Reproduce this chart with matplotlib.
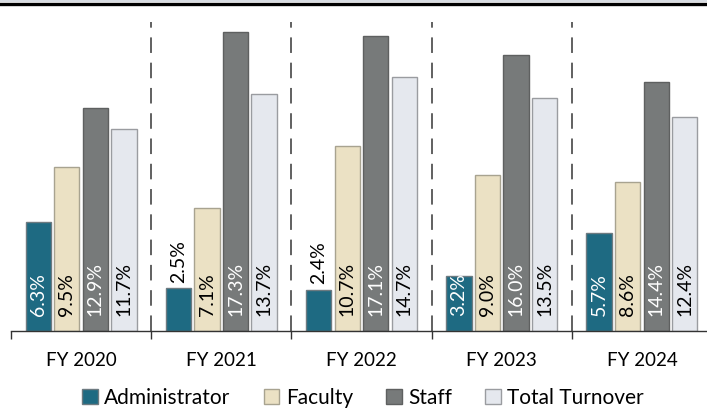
import matplotlib
matplotlib.use("Agg")
import matplotlib.pyplot as plt
from matplotlib.lines import Line2D
import numpy as np

plt.rcParams['font.family'] = ['Lato', 'DejaVu Sans']

years = ["FY 2020", "FY 2021", "FY 2022", "FY 2023", "FY 2024"]
series = ["Administrator", "Faculty", "Staff", "Total Turnover"]
administrator = [6.3, 2.5, 2.4, 3.2, 5.7]
faculty = [9.5, 7.1, 10.7, 9.0, 8.6]
staff = [12.9, 17.3, 17.1, 16.0, 14.4]
total = [11.7, 13.7, 14.7, 13.5, 12.4]

colors = ["#1e6a82", "#ebe1c4", "#777a7a", "#e5e8ee"]
edges = ["#6d7a80", "#a8a390", "#5e6060", "#9a9ca0"]
text_colors = ["white", "black", "white", "black"]

fig = plt.figure(figsize=(7.07, 4.12), dpi=100)
W, H = 707, 412
ax = fig.add_axes([11 / W, (H - 331) / H, 701 / W, 326 / H])

x = np.arange(len(years))
step = 0.2036
width = 0.18
for k, vals in enumerate([administrator, faculty, staff, total]):
    pos = x + (k - 1.5) * step
    ax.bar(pos, vals, width, color=colors[k], edgecolor=edges[k], linewidth=1.0,
           label=series[k], zorder=2)
    for xp, v in zip(pos, vals):
        if v < 3:
            ax.text(xp, v + 0.3, f"{v:.1f}%", rotation=90, ha='center', va='bottom',
                    fontsize=14, color='black')
        else:
            ax.text(xp, 0.85, f"{v:.1f}%", rotation=90, ha='center', va='bottom',
                    fontsize=14, color=text_colors[k])

for b in np.arange(0.5, len(years) - 1, 1.0):
    ax.plot([b, b], [0, 17.9], color="#606060", linewidth=1.4, dashes=(8, 5), zorder=1)

ax.set_xlim(-0.5, len(years) - 0.5)
ax.set_ylim(0, 326 / 17.28)
ax.set_yticks([])
for s in ["top", "right", "left"]:
    ax.spines[s].set_visible(False)
ax.spines["bottom"].set_color("#333333")
ax.spines["bottom"].set_linewidth(1.0)

ax.set_xticks(np.arange(-0.5, len(years), 1.0))
ax.set_xticklabels([])
ax.tick_params(axis='x', which='major', length=6, width=1.0, color="#333333", direction='out')
ax.set_xticks(x, minor=True)
ax.set_xticklabels(years, minor=True, fontsize=13.5)
ax.tick_params(axis='x', which='minor', length=0, pad=15)

fig.legend(loc='center', bbox_to_anchor=(363 / W, (H - 398) / H), ncol=4, frameon=False,
           fontsize=15, handlelength=0.75, handleheight=0.75, handletextpad=0.3,
           columnspacing=1.6)

fig.add_artist(Line2D([0, 1], [1 - 1 / H, 1 - 1 / H], color="#d8dce2", linewidth=1.5))
fig.add_artist(Line2D([0, 1], [1 - 3.5 / H, 1 - 3.5 / H], color="black", linewidth=2.4))

fig.savefig("out.png", dpi=100)
